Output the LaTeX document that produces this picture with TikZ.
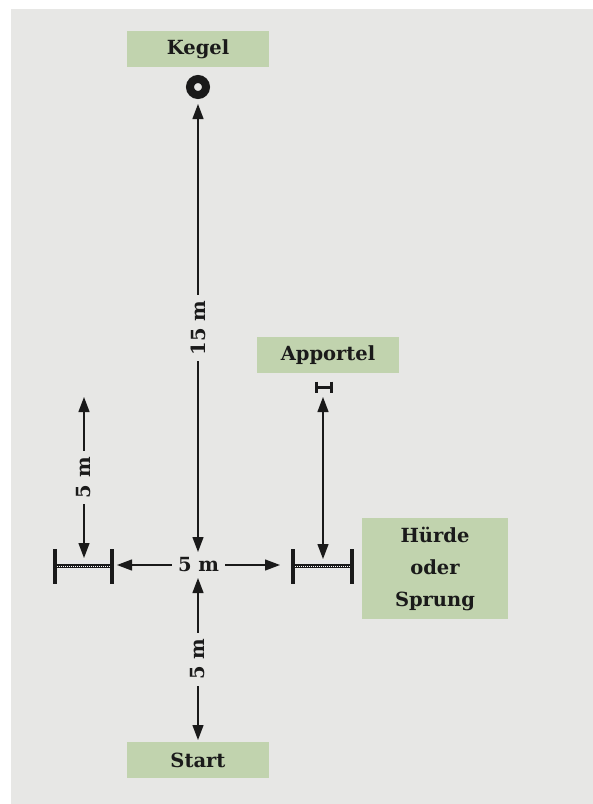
\documentclass[tikz,border=0pt]{standalone}
\usepackage{fontspec}
\setmainfont{DejaVu Serif}
\usepackage{tikz}
\usetikzlibrary{arrows.meta}
\definecolor{fieldgray}{HTML}{E7E7E5}
\definecolor{boxgreen}{HTML}{C1D3AE}
\definecolor{inkblack}{HTML}{1A1A1A}
\tikzstyle{fieldbox} = [rectangle, fill=boxgreen, inner sep=0pt, minimum width=142pt, minimum height=36pt, text=inkblack, align=center, font=\fontsize{19.5}{32}\selectfont\bfseries]
\tikzstyle{dimarrow} = [draw=inkblack, line width=1.3pt, {Triangle[length=15pt,width=11pt]}-{Triangle[length=15pt,width=11pt]}]
\tikzstyle{dimlabel} = [fill=fieldgray, text=inkblack, inner xsep=6pt, inner ysep=2pt, font=\fontsize{19.5}{22}\selectfont\bfseries]
\tikzstyle{hurdlepost} = [draw=inkblack, line width=4pt]
\tikzstyle{hurdlebar} = [draw=inkblack, line width=3.6pt]
\tikzstyle{hurdledots} = [draw=white, line width=1pt, dash pattern=on 1pt off 1pt]

\begin{document}
\begin{tikzpicture}[x=1pt, y=-1pt]
\useasboundingbox (0,0) rectangle (593,804);
\fill[fieldgray] (11,9) rectangle (593,804);

% Felder
\node [fieldbox] (kegel) at (198,49) {Kegel};
\node [fieldbox] (apportel) at (328,355) {Apportel};
\node [fieldbox, minimum width=146pt, minimum height=101pt] (huerde) at (435,568.5) {H\"urde\\oder\\Sprung};
\node [fieldbox] (start) at (198,760) {Start};

% Kegel
\node [circle, draw=inkblack, line width=8pt, inner sep=0pt, minimum size=16pt] (cone) at (198,87) {};

% Huerden
\draw [hurdlebar] (57,566) -- (110,566);
\draw [hurdledots] (57,566) -- (110,566);
\draw [hurdlepost] (55,549) -- (55,584);
\draw [hurdlepost] (112,549) -- (112,584);
\draw [hurdlebar] (295,566) -- (350,566);
\draw [hurdledots] (295,566) -- (350,566);
\draw [hurdlepost] (293,549) -- (293,584);
\draw [hurdlepost] (352,549) -- (352,584);

% Apportel
\draw [draw=inkblack, line width=3pt] (316,387) -- (331,387);
\draw [draw=inkblack, line width=3pt] (316,381.5) -- (316,392.5);
\draw [draw=inkblack, line width=3pt] (331,381.5) -- (331,392.5);

% Endpunkte
\coordinate (conefoot) at (198,104);
\coordinate (crossnorth) at (198,552);
\coordinate (crosssouth) at (198,578);
\coordinate (startfoot) at (198,740);
\coordinate (crosswest) at (117,565);
\coordinate (crosseast) at (280,565);
\coordinate (lefttop) at (84,397);
\coordinate (leftfoot) at (84,558);
\coordinate (righttop) at (323,397);
\coordinate (rightfoot) at (323,559);

% Abstaende
\draw [dimarrow] (conefoot) -- node[dimlabel, rotate=90] {15 m} (crossnorth);
\draw [dimarrow] (crosswest) -- node[dimlabel] {5 m} (crosseast);
\draw [dimarrow] (crosssouth) -- node[dimlabel, rotate=90] {5 m} (startfoot);
\draw [dimarrow] (lefttop) -- node[dimlabel, rotate=90] {5 m} (leftfoot);
\draw [dimarrow] (righttop) -- (rightfoot);
\end{tikzpicture}
\end{document}
